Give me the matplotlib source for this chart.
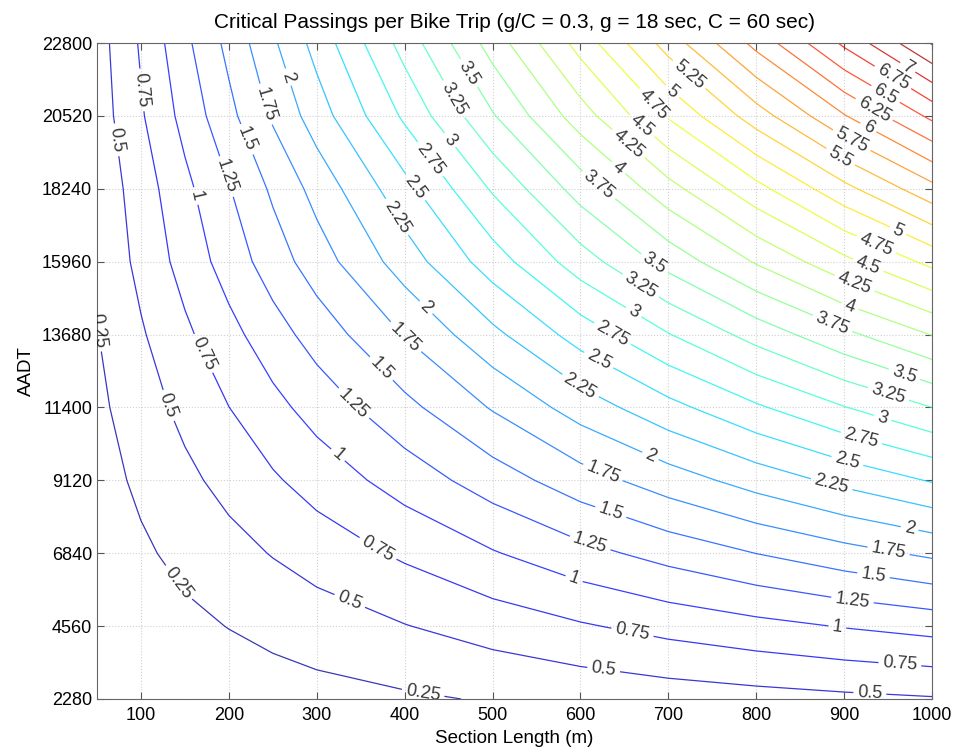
import numpy as np
import matplotlib
matplotlib.use("Agg")
from matplotlib import pyplot as plt

plt.rcParams['font.family'] = ['Liberation Sans', 'DejaVu Sans']

# Eixos (comprimento do trecho em m, AADT)
section_length = [50, 100, 150, 200, 250, 300, 400, 500, 600, 700, 800, 900, 1000]
aadt = [2280, 4560, 6840, 9120, 11400, 13680, 15960, 18240, 20520, 22800]

# Passagens críticas (linhas = AADT, colunas = comprimento)
passings = [
    [0.031, 0.060, 0.086, 0.113, 0.139, 0.166, 0.216, 0.269, 0.319, 0.367, 0.408, 0.446, 0.480],
    [0.071, 0.136, 0.196, 0.256, 0.316, 0.376, 0.491, 0.610, 0.725, 0.834, 0.927, 1.014, 1.090],
    [0.108, 0.212, 0.315, 0.414, 0.513, 0.608, 0.792, 0.981, 1.170, 1.341, 1.503, 1.656, 1.800],
    [0.151, 0.297, 0.441, 0.580, 0.718, 0.852, 1.109, 1.373, 1.638, 1.877, 2.104, 2.318, 2.520],
    [0.195, 0.384, 0.569, 0.748, 0.926, 1.099, 1.430, 1.771, 2.113, 2.421, 2.714, 2.990, 3.250],
    [0.241, 0.473, 0.702, 0.922, 1.143, 1.355, 1.764, 2.186, 2.607, 2.988, 3.348, 3.689, 4.010],
    [0.289, 0.569, 0.844, 1.109, 1.374, 1.629, 2.121, 2.627, 3.133, 3.591, 4.025, 4.434, 4.820],
    [0.318, 0.624, 0.936, 1.236, 1.542, 1.837, 2.415, 3.030, 3.610, 4.160, 4.670, 5.175, 5.670],
    [0.367, 0.722, 1.082, 1.430, 1.784, 2.125, 2.795, 3.477, 4.133, 4.776, 5.379, 5.983, 6.560],
    [0.390, 0.780, 1.190, 1.570, 1.960, 2.340, 3.100, 3.860, 4.600, 5.360, 6.080, 6.800, 7.520],
]

levels = np.arange(0.25, 7.51, 0.25)

# Rótulos das curvas: nível e posição aproximada, como no original
label_levels = [
    0.75, 0.5, 2, 1.75, 1.5, 1.25, 1,
    3.5, 3.25, 3, 2.75, 2.5, 2.25,
    5.25, 5, 4.75, 4.5, 4.25, 4, 3.75,
    7, 6.75, 6.5, 6.25, 6, 5.75, 5.5,
    5, 4.75, 4.5, 4.25, 4, 3.75, 3.5, 3.25, 3, 2.75, 2.5,
    2.25, 2, 1.75, 1.5, 1.25, 1, 0.75, 0.5,
    3.5, 3.25, 3, 2.75, 2.5, 2.25, 2, 1.75, 1.5, 1.25, 1, 0.75, 0.5,
    2, 1.75, 1.5, 1.25, 1, 0.75, 0.5, 0.25,
    0.75, 0.5, 0.25, 0.25,
]
label_pos = [
    (99, 21327), (70, 19763), (264, 21702), (238, 20858), (218, 19763), (192, 18575), (167, 18043),
    (469, 21796), (454, 21014), (469, 20139), (440, 19388), (423, 18513), (404, 17574),
    (721, 21733), (704, 21264), (679, 20764), (668, 20139), (648, 19450), (639, 18761), (617, 18240),
    (969, 21890), (950, 21483), (941, 20921), (927, 20389), (921, 19826), (901, 19357), (890, 18982),
    (958, 16730), (935, 16386), (927, 15823), (912, 15291), (907, 14603), (887, 14040),
    (967, 12320), (949, 11694), (943, 11006), (918, 10287), (903, 9661),
    (884, 8817), (973, 7409), (949, 6690), (932, 5902), (909, 5282), (892, 4501),
    (963, 3250), (929, 2343),
    (688, 16073), (671, 15322), (664, 14540), (639, 13820), (624, 13040), (603, 12195),
    (679, 9849), (622, 9129), (634, 8097), (611, 7159), (591, 5908), (659, 4344), (626, 3124),
    (427, 14603), (400, 13571), (374, 12633), (340, 11475), (324, 9911), (370, 7003),
    (337, 5314), (421, 2468),
    (167, 13039), (133, 11475), (139, 5845), (53, 13821),
]

fig = plt.figure(figsize=(9.56, 7.52), dpi=100)
ax = fig.add_axes([0.1015, 0.0705, 0.8735, 0.8723])
ax.set_xlim(50, 1000)
ax.set_ylim(2280, 22800)

ax.grid(True, color='#d0d0d0', linestyle=':', linewidth=0.8)
ax.set_axisbelow(True)

X, Y = np.meshgrid(section_length, aadt)
cs = ax.contour(X, Y, np.array(passings), levels=levels, cmap='jet',
                vmin=0.0, vmax=7.52, linewidths=0.9, alpha=0.78)


def ponto_na_curva(lev, x, y):
    # ponto mais próximo (em pixels) sobre a curva do nível pedido
    i = int(np.argmin(np.abs(levels - lev)))
    p = ax.transData.transform([(x, y)])[0]
    melhor, dmin = (x, y), np.inf
    for seg in cs.allsegs[i]:
        if len(seg) < 2:
            continue
        pts = ax.transData.transform(seg)
        a, b = pts[:-1], pts[1:]
        ab = b - a
        t = ((p - a) * ab).sum(1) / np.maximum((ab ** 2).sum(1), 1e-9)
        t = np.clip(t, 0, 1)
        q = a + t[:, None] * ab
        d = np.hypot(q[:, 0] - p[0], q[:, 1] - p[1])
        k = int(d.argmin())
        if d[k] < dmin:
            dmin = d[k]
            melhor = ax.transData.inverted().transform(q[k])
    return tuple(melhor)


pontos = [ponto_na_curva(l, x, y) for l, (x, y) in zip(label_levels, label_pos)]
ax.clabel(cs, fmt='%g', fontsize=13, colors='k', inline=True,
          inline_spacing=4, manual=pontos)

ax.set_xticks(range(100, 1001, 100))
ax.set_yticks(aadt)
ax.tick_params(direction='in', top=True, right=True, labelsize=13,
               length=5, color='#555555')
ax.tick_params(axis='x', pad=6)
for s in ax.spines.values():
    s.set_color('#666666')

ax.set_title("Critical Passings per Bike Trip (g/C = 0.3, g = 18 sec, C = 60 sec)",
             fontsize=15, pad=11)
ax.set_xlabel("Section Length (m)", fontsize=13.5, labelpad=4)
ax.set_ylabel("AADT", fontsize=13.5, labelpad=5)

fig.savefig("out.png", dpi=100)
